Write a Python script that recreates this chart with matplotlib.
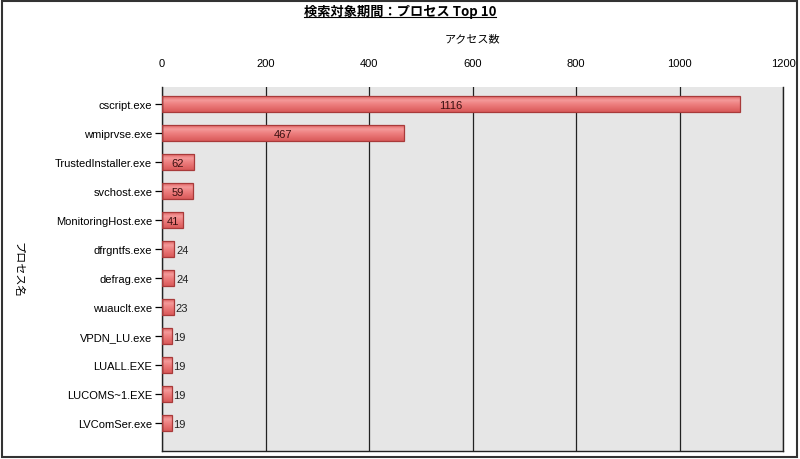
import matplotlib
matplotlib.use("Agg")
import matplotlib.pyplot as plt
from matplotlib.patches import Rectangle
from matplotlib.colors import LinearSegmentedColormap
import numpy as np

plt.rcParams['font.family'] = ['Liberation Sans', 'Noto Sans CJK JP', 'DejaVu Sans']

title = "検索対象期間：プロセス Top 10"
xlabel = "アクセス数"
ylabel = "プロセス名"
processes = ["cscript.exe", "wmiprvse.exe", "TrustedInstaller.exe", "svchost.exe",
             "MonitoringHost.exe", "dfrgntfs.exe", "defrag.exe", "wuauclt.exe",
             "VPDN_LU.exe", "LUALL.EXE", "LUCOMS~1.EXE", "LVComSer.exe"]
counts = [1116, 467, 62, 59, 41, 24, 24, 23, 19, 19, 19, 19]
xticks = [0, 200, 400, 600, 800, 1000, 1200]

fig = plt.figure(figsize=(8, 4.6), dpi=100)
fig.patch.set_facecolor('white')
fig.add_artist(Rectangle((0.002, 0.004), 0.994, 0.992, transform=fig.transFigure,
                         fill=False, edgecolor='#333333', linewidth=1.5))

ax = fig.add_axes([162/800, 8/460, 621/800, 364/460])
ax.set_facecolor('#e6e6e6')
y = np.arange(len(processes))
ax.grid(axis='x', color='#222222', linewidth=0.9, zorder=1)
ax.set_axisbelow(True)

bar_h = 0.55
cmap = LinearSegmentedColormap.from_list(
    'barg', ['#e26464', '#f49a9a', '#ee8080', '#e46c6c', '#d95a5a'])
grad = np.linspace(0, 1, 64).reshape(-1, 1)
bars = ax.barh(y, counts, height=bar_h, color='none', edgecolor='#a83a3a',
               linewidth=0.9, zorder=3)
for yi, v in zip(y, counts):
    ax.imshow(grad, cmap=cmap, aspect='auto', interpolation='bilinear',
              extent=[0, v, yi + bar_h / 2, yi - bar_h / 2], zorder=2)

ax.set_xlim(0, 1200)
ax.set_ylim(11.97, -0.59)
ax.set_xticks(xticks)
ax.set_yticks(y)
ax.set_yticklabels(processes, fontsize=8)
ax.xaxis.tick_top()
ax.xaxis.set_label_position('top')
ax.tick_params(axis='x', length=0, labelsize=8, pad=14)
ax.tick_params(axis='y', length=5, width=0.9, pad=2)
ax.set_xlabel(xlabel, fontsize=8, labelpad=12)
ax.spines['top'].set_visible(False)
for s in ['left', 'right', 'bottom']:
    ax.spines[s].set_color('#222222')
    ax.spines[s].set_linewidth(1.0)

for yi, v in zip(y, counts):
    if v >= 35:
        ax.text(v / 2, yi + 0.03, str(v), ha='center', va='center', fontsize=8,
                color='#3a1010', zorder=4)
    else:
        ax.text(v + 3, yi + 0.03, str(v), ha='left', va='center', fontsize=8,
                color='#222222', zorder=4)

fig.text(18/800, 1 - 270/460, ylabel, rotation=270, ha='center', va='center',
         fontsize=8, family=['Noto Sans CJK JP', 'DejaVu Sans'])

t = fig.text(0.5, 1 - 12/460, title, ha='center', va='center', fontsize=9.5,
             fontweight='bold', family=['Noto Sans CJK JP', 'DejaVu Sans'])
fig.canvas.draw()
bb = t.get_window_extent().transformed(fig.transFigure.inverted())
fig.add_artist(plt.Line2D([bb.x0, bb.x1], [bb.y0 + 0.002, bb.y0 + 0.002],
                          transform=fig.transFigure, color='black', linewidth=0.8))

fig.savefig('out.png', dpi=100)
